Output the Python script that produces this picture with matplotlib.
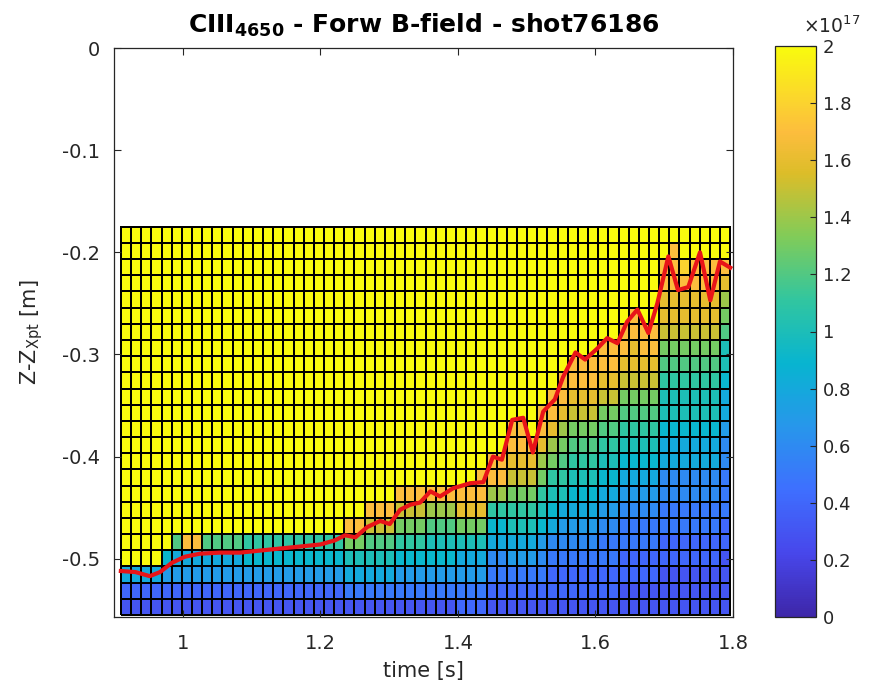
import numpy as np
import matplotlib
matplotlib.use("Agg")
import matplotlib.pyplot as plt
from matplotlib.colors import LinearSegmentedColormap

plt.rcParams['font.family'] = ['DejaVu Sans']
plt.rcParams['axes.unicode_minus'] = False

# ---------------- data ----------------
# time grid (cell edges) and vertical grid (cell edges)
t_start, t_end, n_t_edges = 0.91, 1.796, 61
z_start, z_end, n_z_edges = -0.555, -0.175, 25

# emissivity per column (bottom row -> top row), unit 0.1e17; 'K' = 2e17 (saturated)
level_codes = "0123456789ABCDEFGHIJK"
column_profiles = [
    "348", "348", "348", "348", "3479",
    "3478C", "3478H", "3478H", "3478C", "3478C", "3478C", "3478C",
    "3479B", "3479B", "3479B", "3479B", "3479B", "3479B", "3479B", "3479B", "3479B", "3479B",
    "358ADH", "358ADH",
    "358ACFH", "358ACFH", "358ACFH",
    "3579BDFH", "3579BDFH", "3579BDFH",
    "3579ACEH", "3579ACEH", "3579ACEH",
    "4578ADGH", "4578ADGH", "4578ADGHH",
    "345689BEHH", "345689BEHH",
    "34578ABDFGHH", "34578ABDFGHH", "34578ABDFGH",
    "345679ABDEGHH", "3445689ABDEGHH", "3445678ABCDEGHH",
    "34456789ABCDFGHH", "34456789ABCDFGHH", "34456789ABCDFGHH",
    "344556789ABCDFGHH", "344556789ABCDFGHH",
    "3344556789ABCDFGHH", "3344556789ABCDFGGHH", "3344556789ABCDFGHH", "3344556789ABCDFGHH",
    "333445566889AABCDFGGHH", "333445566889AABCDFGGHHH", "333445566889AABCDFGGHI",
    "333445566889AABCDFGGHH", "333445566889AABCDFGGHH", "333445566889AABCDFGGHH",
    "333344555667889AACDEGH",
]

# front position (red line)
front_t = [0.910, 0.931, 0.952, 0.967, 0.984, 1.003, 1.025, 1.054, 1.083, 1.112,
           1.141, 1.171, 1.200, 1.221, 1.236, 1.251, 1.268, 1.287, 1.301, 1.316,
           1.331, 1.345, 1.360, 1.374, 1.393, 1.418, 1.437, 1.451, 1.464, 1.479,
           1.495, 1.509, 1.524, 1.541, 1.553, 1.571, 1.585, 1.603, 1.617, 1.632,
           1.646, 1.661, 1.677, 1.690, 1.706, 1.720, 1.735, 1.752, 1.767, 1.781, 1.796]
front_z = [-0.512, -0.513, -0.517, -0.513, -0.504, -0.498, -0.495, -0.494, -0.494, -0.492,
           -0.490, -0.488, -0.486, -0.482, -0.477, -0.479, -0.469, -0.463, -0.466, -0.452,
           -0.447, -0.445, -0.434, -0.439, -0.431, -0.426, -0.425, -0.400, -0.403, -0.364,
           -0.362, -0.396, -0.356, -0.344, -0.322, -0.298, -0.305, -0.294, -0.284, -0.289,
           -0.268, -0.256, -0.279, -0.250, -0.204, -0.237, -0.234, -0.200, -0.247, -0.209, -0.215]

x_ticks = [1, 1.2, 1.4, 1.6, 1.8]
x_ticklabels = ["1", "1.2", "1.4", "1.6", "1.8"]
y_ticks = [0, -0.1, -0.2, -0.3, -0.4, -0.5]
y_ticklabels = ["0", "-0.1", "-0.2", "-0.3", "-0.4", "-0.5"]
cb_ticks = [0, 0.2, 0.4, 0.6, 0.8, 1, 1.2, 1.4, 1.6, 1.8, 2]
cb_ticklabels = ["0", "0.2", "0.4", "0.6", "0.8", "1", "1.2", "1.4", "1.6", "1.8", "2"]

# ---------------- colormap (parula-like) ----------------
parula_anchors = [
    (0.000, (0.2422, 0.1504, 0.6603)),
    (0.111, (0.2803, 0.2782, 0.9221)),
    (0.222, (0.2440, 0.4358, 0.9988)),
    (0.333, (0.1540, 0.5902, 0.9218)),
    (0.444, (0.0297, 0.7082, 0.8163)),
    (0.556, (0.1938, 0.7758, 0.6251)),
    (0.667, (0.5044, 0.7993, 0.3480)),
    (0.778, (0.8634, 0.7406, 0.1596)),
    (0.850, (0.9900, 0.7400, 0.2400)),
    (0.900, (0.9850, 0.8250, 0.1850)),
    (1.000, (0.9763, 0.9831, 0.0538)),
]
parula = LinearSegmentedColormap.from_list("parula", parula_anchors, N=256)

# ---------------- build arrays ----------------
n_rows = n_z_edges - 1
C = np.array([[level_codes.index(ch) * 0.1e17 for ch in prof.ljust(n_rows, "K")]
              for prof in column_profiles]).T
t_edges = np.linspace(t_start, t_end, n_t_edges)
z_edges = np.linspace(z_start, z_end, n_z_edges)

# ---------------- figure ----------------
W, H = 893, 686
fig = plt.figure(figsize=(W / 100, H / 100), dpi=100)
ax = fig.add_axes([114 / W, 1 - 617 / H, (733 - 114) / W, (617 - 48) / H])
cax = fig.add_axes([775 / W, 1 - 617 / H, (816 - 775) / W, (617 - 46) / H])

tc = '#262626'
mesh = ax.pcolormesh(t_edges, z_edges, C, cmap=parula, vmin=0, vmax=2e17,
                     edgecolors='k', linewidth=1.1, shading='flat')
ax.plot(front_t, front_z, color='#e81418', linewidth=3.0, solid_joinstyle='round')

ax.set_xlim(0.9, 1.8)
ax.set_ylim(-0.557, 0)
ax.set_xticks(x_ticks)
ax.set_xticklabels(x_ticklabels)
ax.set_yticks(y_ticks)
ax.set_yticklabels(y_ticklabels)
ax.tick_params(direction='in', top=True, right=True, length=5, width=0.8,
               labelsize=14, colors=tc)
ax.tick_params(axis='x', pad=12)
ax.tick_params(axis='y', pad=10)
for s in ax.spines.values():
    s.set_color(tc)
    s.set_linewidth(0.9)

ax.set_title(r'CIII$_{\mathbf{4650}}$ - Forw B-field - shot76186',
             fontsize=18, fontweight='bold', color='black', pad=11)
ax.set_xlabel('time [s]', fontsize=15, color=tc, labelpad=6)
ax.set_ylabel(r'Z-Z$_{\mathrm{Xpt}}$ [m]', fontsize=15, color=tc, labelpad=12)

cb = fig.colorbar(mesh, cax=cax)
cb.set_ticks([v * 1e17 for v in cb_ticks])
cb.set_ticklabels(cb_ticklabels)
cax.tick_params(direction='in', length=4, width=0.8, labelsize=13, colors=tc, pad=5)
cb.outline.set_edgecolor(tc)
cb.outline.set_linewidth(0.9)
fig.text(803 / W, 1 - 33 / H, r'$\times10^{17}$', fontsize=13.5, color=tc)

fig.savefig('out.png', dpi=100)
